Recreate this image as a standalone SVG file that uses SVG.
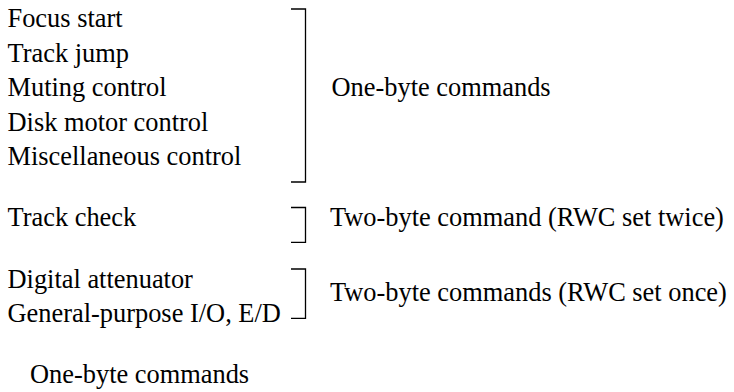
<svg xmlns="http://www.w3.org/2000/svg" width="734" height="392" viewBox="0 0 734 392" font-family="'Liberation Serif', 'Times New Roman', 'DejaVu Serif', serif" font-size="26.4">
<style>
text{font-family:'Liberation Serif','Times New Roman','DejaVu Serif',serif;font-size:26.4px;fill:#000}
.br{fill:none;stroke:#000;stroke-width:1.3}
</style>
<rect width="734" height="392" fill="#fff"/>
<g id="items">
<text x="7.5" y="26.7">Focus start</text>
<text x="7.5" y="61.5">Track jump</text>
<text x="7.5" y="96">Muting control</text>
<text x="7.5" y="130.7">Disk motor control</text>
<text x="7.5" y="165">Miscellaneous control</text>
<text x="7.5" y="226">Track check</text>
<text x="7.5" y="287.7">Digital attenuator</text>
<text x="7.5" y="321.7">General-purpose I/O, E/D</text>
</g>
<g id="connectors">
<path class="br" d="M291 9H305.5V182H291"/>
<path class="br" d="M291 207.5H305.5V242.3H291"/>
<path class="br" d="M291 269H305.5V318.3H291"/>
</g>
<g id="labels">
<text x="331.5" y="95.5">One-byte commands</text>
<text x="330" y="226">Two-byte command (RWC set twice)</text>
<text x="330" y="301">Two-byte commands (RWC set once)</text>
</g>
<g id="caption">
<text x="30" y="383">One-byte commands</text>
</g>
</svg>
